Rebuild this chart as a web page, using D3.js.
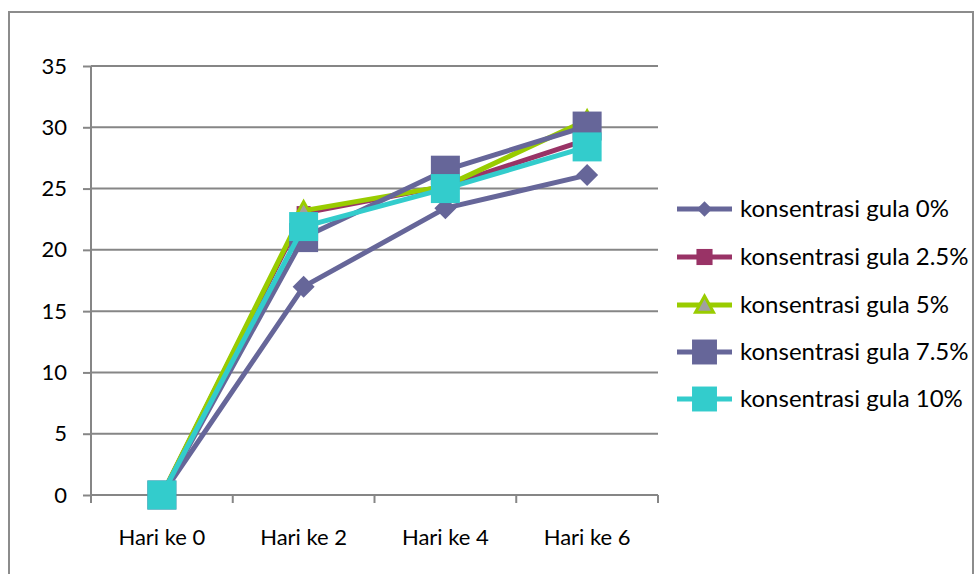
<!DOCTYPE html>
<html>
<head>
<meta charset="utf-8">
<script src="https://cdn.jsdelivr.net/npm/d3@7"></script>
<style>
  body { margin: 0; background: #fff; }
  text { font-family: "Lato", "Open Sans", sans-serif; }
</style>
</head>
<body>
<svg id="chart" width="977" height="574"></svg>
<script>
const days = ["Hari ke 0", "Hari ke 2", "Hari ke 4", "Hari ke 6"];
const yTicks = [0, 5, 10, 15, 20, 25, 30, 35];

const gula0 = [0, 17.0, 23.4, 26.1];
const gula25 = [0, 23.0, 25.2, 29.0];
const gula5 = [0, 23.2, 25.2, 30.6];
const gula75 = [0, 21.0, 26.5, 30.1];
const gula10 = [0, 21.9, 25.0, 28.4];

const series = [
    { name: "konsentrasi gula 0%", values: gula0, color: "#666699", marker: "diamond" },
    { name: "konsentrasi gula 2.5%", values: gula25, color: "#993366", marker: "small" },
    { name: "konsentrasi gula 5%", values: gula5, color: "#99cc00", marker: "triangle" },
    { name: "konsentrasi gula 7.5%", values: gula75, color: "#666699", marker: "big" },
    { name: "konsentrasi gula 10%", values: gula10, color: "#33cccc", marker: "big" }
];

const svg = d3.select("#chart");
const plotL = 91, plotR = 658, plotT = 66, plotB = 495;

// outer frame
svg.append("rect")
    .attr("x", 9).attr("y", 12)
    .attr("width", 964).attr("height", 600)
    .attr("fill", "none").attr("stroke", "#8c8c8c").attr("stroke-width", 2);

const x = d3.scaleBand().domain(days).range([plotL, plotR]);
const y = d3.scaleLinear().domain([0, 35]).range([plotB, plotT]);

// gridlines
svg.append("g").selectAll("line").data(yTicks).join("line")
    .attr("x1", plotL).attr("x2", plotR)
    .attr("y1", d => y(d)).attr("y2", d => y(d))
    .attr("stroke", "#868686").attr("stroke-width", 2);

// y axis
const yAxis = svg.append("g")
    .attr("transform", `translate(${plotL},0)`)
    .call(d3.axisLeft(y).tickValues(yTicks).tickSize(8).tickPadding(16));
yAxis.select(".domain").attr("stroke", "#868686").attr("stroke-width", 2)
    .attr("d", `M0,${plotT}V${plotB + 7}`);
yAxis.selectAll(".tick line").attr("stroke", "#868686").attr("stroke-width", 2);
yAxis.selectAll(".tick text").attr("font-size", 22).attr("fill", "#000")
    .style("font-family", "Lato, sans-serif");

// x axis
const xAxis = svg.append("g")
    .attr("transform", `translate(0,${plotB})`)
    .call(d3.axisBottom(x).tickSize(0).tickPadding(34));
xAxis.select(".domain").remove();
xAxis.selectAll(".tick text").attr("font-size", 22).attr("fill", "#000")
    .style("font-family", "Lato, sans-serif");
const edges = days.map(d => x(d)).concat([plotR]);
svg.append("g").selectAll("line").data(edges).join("line")
    .attr("x1", d => d).attr("x2", d => d)
    .attr("y1", plotB).attr("y2", plotB + 8)
    .attr("stroke", "#868686").attr("stroke-width", 2);
svg.append("line")
    .attr("x1", plotL).attr("x2", plotR).attr("y1", plotB).attr("y2", plotB)
    .attr("stroke", "#868686").attr("stroke-width", 2);

const cx = d => x(d) + x.bandwidth() / 2;

function drawMarker(g, type, color, px, py, k) {
    k = k || 1;
    if (type === "diamond") {
        const s = 11 * k;
        g.append("path")
            .attr("d", `M${px},${py - s}L${px + s},${py}L${px},${py + s}L${px - s},${py}Z`)
            .attr("fill", color);
    } else if (type === "small") {
        const s = 7 * k;
        g.append("rect").attr("x", px - s).attr("y", py - s)
            .attr("width", 2 * s).attr("height", 2 * s).attr("fill", color);
    } else if (type === "triangle") {
        const s = 9 * k;
        g.append("path")
            .attr("d", `M${px},${py - s}L${px + s},${py + s * 0.8}L${px - s},${py + s * 0.8}Z`)
            .attr("fill", "#a0a0a0").attr("stroke", color).attr("stroke-width", 3);
    } else {
        const s = 14.5 * k;
        g.append("rect").attr("x", px - s).attr("y", py - s)
            .attr("width", 2 * s).attr("height", 2 * s).attr("fill", color);
    }
}

const line = d3.line().x((d, i) => cx(days[i])).y(d => y(d));

series.forEach(s => {
    const g = svg.append("g");
    g.append("path")
        .attr("d", line(s.values))
        .attr("fill", "none").attr("stroke", s.color).attr("stroke-width", 5)
        .attr("stroke-linejoin", "round");
    s.values.forEach((v, i) => drawMarker(g, s.marker, s.color, cx(days[i]), y(v)));
});

// legend
const legend = svg.append("g");
const rowY = [209, 257, 305, 352, 399];
const legendK = { diamond: 0.7, small: 1.15, triangle: 1, big: 0.86 };
series.forEach((s, i) => {
    const g = legend.append("g");
    g.append("line")
        .attr("x1", 677).attr("x2", 732).attr("y1", rowY[i]).attr("y2", rowY[i])
        .attr("stroke", s.color).attr("stroke-width", 5);
    drawMarker(g, s.marker, s.color, 704.5, rowY[i], legendK[s.marker]);
    g.append("text")
        .attr("x", 740).attr("y", rowY[i]).attr("dy", "0.35em")
        .attr("font-size", 24).attr("fill", "#000")
        .text(s.name);
});
</script>
</body>
</html>
